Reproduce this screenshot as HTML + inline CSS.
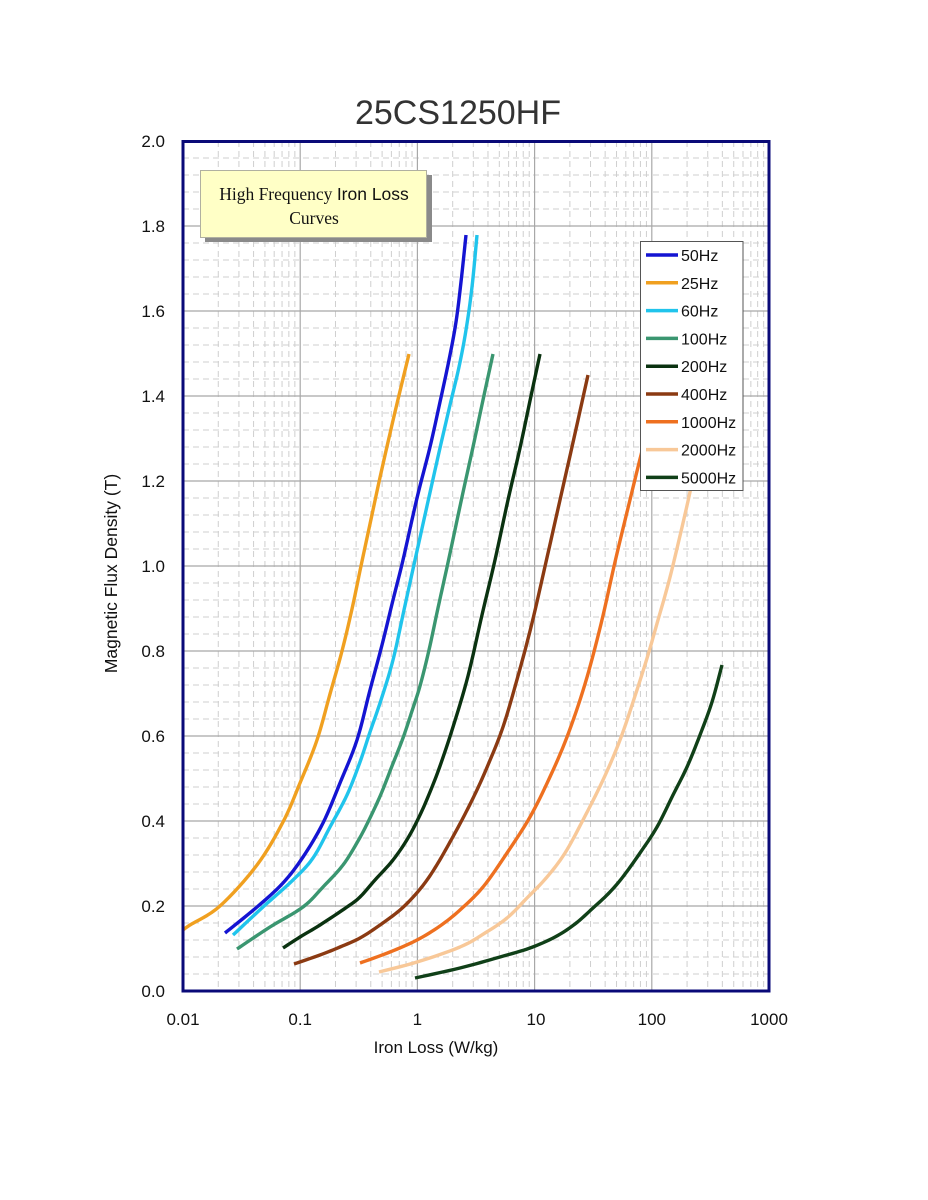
<!DOCTYPE html>
<html>
<head>
<meta charset="utf-8">
<style>
  html, body { margin:0; padding:0; background:#ffffff; }
  body { width:928px; height:1200px; overflow:hidden; }
  svg { display:block; }
  .t { font-family:"Liberation Sans", Arial, sans-serif; fill:#111; }
  .s { font-family:"Liberation Serif", "Times New Roman", serif; fill:#111; }
</style>
</head>
<body>
<svg width="928" height="1200" viewBox="0 0 928 1200" xmlns="http://www.w3.org/2000/svg">
  <rect x="0" y="0" width="928" height="1200" fill="#ffffff"/>

  <!-- Title -->
  <text x="458" y="124" class="t" font-size="34" text-anchor="middle" style="fill:#333">25CS1250HF</text>

  <defs>
    <g id="dec">
      <line x1="35.28" y1="141" x2="35.28" y2="991"/>
      <line x1="55.92" y1="141" x2="55.92" y2="991"/>
      <line x1="70.56" y1="141" x2="70.56" y2="991"/>
      <line x1="81.92" y1="141" x2="81.92" y2="991"/>
      <line x1="91.20" y1="141" x2="91.20" y2="991"/>
      <line x1="99.05" y1="141" x2="99.05" y2="991"/>
      <line x1="105.84" y1="141" x2="105.84" y2="991"/>
      <line x1="111.84" y1="141" x2="111.84" y2="991"/>
    </g>
  </defs>

  <!-- minor vertical grid -->
  <g stroke="#cfcfcf" stroke-width="1" stroke-dasharray="6,4">
    <use href="#dec" transform="translate(183,0)"/>
    <use href="#dec" transform="translate(300.2,0)"/>
    <use href="#dec" transform="translate(417.4,0)"/>
    <use href="#dec" transform="translate(534.6,0)"/>
    <use href="#dec" transform="translate(651.8,0)"/>
  </g>

  <!-- minor horizontal grid -->
  <g stroke="#cfcfcf" stroke-width="1" stroke-dasharray="6,4">
    <line x1="183" x2="769" y1="974" y2="974"/><line x1="183" x2="769" y1="957" y2="957"/><line x1="183" x2="769" y1="940" y2="940"/><line x1="183" x2="769" y1="923" y2="923"/>
    <line x1="183" x2="769" y1="889" y2="889"/><line x1="183" x2="769" y1="872" y2="872"/><line x1="183" x2="769" y1="855" y2="855"/><line x1="183" x2="769" y1="838" y2="838"/>
    <line x1="183" x2="769" y1="804" y2="804"/><line x1="183" x2="769" y1="787" y2="787"/><line x1="183" x2="769" y1="770" y2="770"/><line x1="183" x2="769" y1="753" y2="753"/>
    <line x1="183" x2="769" y1="719" y2="719"/><line x1="183" x2="769" y1="702" y2="702"/><line x1="183" x2="769" y1="685" y2="685"/><line x1="183" x2="769" y1="668" y2="668"/>
    <line x1="183" x2="769" y1="634" y2="634"/><line x1="183" x2="769" y1="617" y2="617"/><line x1="183" x2="769" y1="600" y2="600"/><line x1="183" x2="769" y1="583" y2="583"/>
    <line x1="183" x2="769" y1="549" y2="549"/><line x1="183" x2="769" y1="532" y2="532"/><line x1="183" x2="769" y1="515" y2="515"/><line x1="183" x2="769" y1="498" y2="498"/>
    <line x1="183" x2="769" y1="464" y2="464"/><line x1="183" x2="769" y1="447" y2="447"/><line x1="183" x2="769" y1="430" y2="430"/><line x1="183" x2="769" y1="413" y2="413"/>
    <line x1="183" x2="769" y1="379" y2="379"/><line x1="183" x2="769" y1="362" y2="362"/><line x1="183" x2="769" y1="345" y2="345"/><line x1="183" x2="769" y1="328" y2="328"/>
    <line x1="183" x2="769" y1="294" y2="294"/><line x1="183" x2="769" y1="277" y2="277"/><line x1="183" x2="769" y1="260" y2="260"/><line x1="183" x2="769" y1="243" y2="243"/>
    <line x1="183" x2="769" y1="209" y2="209"/><line x1="183" x2="769" y1="192" y2="192"/><line x1="183" x2="769" y1="175" y2="175"/><line x1="183" x2="769" y1="158" y2="158"/>
  </g>

  <!-- major grid -->
  <g stroke="#a8a8a8" stroke-width="1.2">
    <line x1="300.2" y1="141" x2="300.2" y2="991"/>
    <line x1="417.4" y1="141" x2="417.4" y2="991"/>
    <line x1="534.6" y1="141" x2="534.6" y2="991"/>
    <line x1="651.8" y1="141" x2="651.8" y2="991"/>
    <line x1="183" x2="769" y1="906" y2="906"/>
    <line x1="183" x2="769" y1="821" y2="821"/>
    <line x1="183" x2="769" y1="736" y2="736"/>
    <line x1="183" x2="769" y1="651" y2="651"/>
    <line x1="183" x2="769" y1="566" y2="566"/>
    <line x1="183" x2="769" y1="481" y2="481"/>
    <line x1="183" x2="769" y1="396" y2="396"/>
    <line x1="183" x2="769" y1="311" y2="311"/>
    <line x1="183" x2="769" y1="226" y2="226"/>
  </g>

  <!-- Curves -->
  <g id="curves" fill="none" stroke-width="3.4" stroke-linejoin="round" stroke-linecap="butt">
    <!-- 25Hz -->
    <polyline stroke="#F0A020" points="183,930 190,925 220,906 257,865 283,822 300,783 317,740 330,694 342,651 352,609 361,566 370,524 381,473 395,412 409,354"/>
    <!-- 50Hz -->
    <polyline stroke="#1414D2" points="225,933 257,907 283,883 303,857 323,823 340,783 357,740 370,690 382,645 393,600 403,560 417,498 430,447 440,402 449,360 456,322 461,282 466,235"/>
    <!-- 60Hz -->
    <polyline stroke="#20C4EC" points="233,935 263,907 293,880 313,858 330,827 347,795 360,762 370,732 381,700 393,660 404,610 415,560 429,497 440,448 450,405 459,367 466,330 472,287 477,235"/>
    <!-- 100Hz -->
    <polyline stroke="#3A9670" points="237,949 270,927 303,907 323,887 343,865 358,841 369,820 381,794 392,766 403,738 412,711 420,686 429,650 438,608 449,558 462,497 473,447 483,400 493,354"/>
    <!-- 200Hz -->
    <polyline stroke="#0A3210" points="283,948 300,937 320,925 347,907 360,897 375,880 393,860 408,838 420,815 430,792 440,766 453,727 468,676 482,615 495,560 508,500 520,448 531,396 540,354"/>
    <!-- 400Hz -->
    <polyline stroke="#8B3A12" points="294,964 320,955 340,947 360,938 380,925 400,910 415,895 427,880 438,863 450,842 463,818 476,792 488,765 503,727 518,676 532,623 546,562 560,500 574,438 588,375"/>
    <!-- 1000Hz -->
    <polyline stroke="#EE7020" points="360,963 390,952 417,940 440,926 460,910 483,887 507,853 530,817 549,779 567,737 585,684 601,624 615,562 628,508 641,455 655,400"/>
    <!-- 2000Hz -->
    <polyline stroke="#F8C898" points="379,972 417,962 460,947 485,933 507,918 527,898 547,877 565,853 583,820 603,780 620,740 635,696 648,655 658,620 666,592 674,561 690,492 700,440"/>
    <!-- 5000Hz -->
    <polyline stroke="#104018" points="415,978 460,968 500,957 530,948 555,937 575,924 593,908 608,894 622,878 640,853 657,827 673,795 687,767 700,735 712,702 722,665"/>
  </g>

  <!-- Legend -->
  <rect x="640.5" y="241.5" width="102.5" height="249" fill="#ffffff" stroke="#555" stroke-width="1"/>
  <g stroke-width="3.5">
    <line x1="646" x2="678" y1="255" y2="255" stroke="#1414D2"/>
    <line x1="646" x2="678" y1="282.8" y2="282.8" stroke="#F0A020"/>
    <line x1="646" x2="678" y1="310.6" y2="310.6" stroke="#20C4EC"/>
    <line x1="646" x2="678" y1="338.4" y2="338.4" stroke="#3A9670"/>
    <line x1="646" x2="678" y1="366.2" y2="366.2" stroke="#0A3210"/>
    <line x1="646" x2="678" y1="394" y2="394" stroke="#8B3A12"/>
    <line x1="646" x2="678" y1="421.8" y2="421.8" stroke="#EE7020"/>
    <line x1="646" x2="678" y1="449.6" y2="449.6" stroke="#F8C898"/>
    <line x1="646" x2="678" y1="477.4" y2="477.4" stroke="#104018"/>
  </g>
  <g class="t" font-size="16">
    <text x="681" y="261">50Hz</text>
    <text x="681" y="288.8">25Hz</text>
    <text x="681" y="316.6">60Hz</text>
    <text x="681" y="344.4">100Hz</text>
    <text x="681" y="372.2">200Hz</text>
    <text x="681" y="400">400Hz</text>
    <text x="681" y="427.8">1000Hz</text>
    <text x="681" y="455.6">2000Hz</text>
    <text x="681" y="483.4">5000Hz</text>
  </g>

  <!-- Info box -->
  <rect x="205" y="175" width="227" height="67" fill="#8a8a8a"/>
  <rect x="200.5" y="170.5" width="226" height="67" fill="#FFFFC6" stroke="#b0b0a0" stroke-width="1"/>
  <text x="314" y="200" text-anchor="middle" font-size="17.5"><tspan class="s">High Frequency </tspan><tspan class="t">Iron Loss</tspan></text>
  <text x="314" y="224" text-anchor="middle" class="s" font-size="17.5">Curves</text>

  <!-- Plot border -->
  <rect x="183" y="141.5" width="586" height="849.5" fill="none" stroke="#0A0A78" stroke-width="3"/>

  <!-- Y tick labels -->
  <g class="t" font-size="17" text-anchor="end">
    <text x="165" y="997">0.0</text>
    <text x="165" y="912">0.2</text>
    <text x="165" y="827">0.4</text>
    <text x="165" y="742">0.6</text>
    <text x="165" y="657">0.8</text>
    <text x="165" y="572">1.0</text>
    <text x="165" y="487">1.2</text>
    <text x="165" y="402">1.4</text>
    <text x="165" y="317">1.6</text>
    <text x="165" y="232">1.8</text>
    <text x="165" y="147">2.0</text>
  </g>

  <!-- X tick labels -->
  <g class="t" font-size="17" text-anchor="middle">
    <text x="183" y="1025">0.01</text>
    <text x="300.2" y="1025">0.1</text>
    <text x="417.4" y="1025">1</text>
    <text x="536" y="1025">10</text>
    <text x="651.8" y="1025">100</text>
    <text x="769" y="1025">1000</text>
  </g>

  <!-- Axis titles -->
  <text x="436" y="1053" class="t" font-size="17" text-anchor="middle">Iron Loss (W/kg)</text>
  <text transform="translate(117,573.5) rotate(-90)" class="t" font-size="17.5" text-anchor="middle">Magnetic Flux Density (T)</text>
</svg>
<script>
(function(){
  try {
    var pls = document.querySelectorAll('#curves polyline');
    for (var k = 0; k < pls.length; k++) {
      var pl = pls[k];
      var raw = pl.getAttribute('points').trim().split(/\s+/).map(function(s){var a=s.split(',');return [parseFloat(a[0]),parseFloat(a[1])];});
      if (raw.length < 3) continue;
      var out = [];
      for (var i = 0; i < raw.length - 1; i++) {
        var p0 = raw[i > 0 ? i - 1 : i], p1 = raw[i], p2 = raw[i + 1], p3 = raw[i + 2 < raw.length ? i + 2 : i + 1];
        for (var s = 0; s < 8; s++) {
          var t = s / 8, t2 = t * t, t3 = t2 * t;
          var x = 0.5 * ((2 * p1[0]) + (-p0[0] + p2[0]) * t + (2 * p0[0] - 5 * p1[0] + 4 * p2[0] - p3[0]) * t2 + (-p0[0] + 3 * p1[0] - 3 * p2[0] + p3[0]) * t3);
          var y = 0.5 * ((2 * p1[1]) + (-p0[1] + p2[1]) * t + (2 * p0[1] - 5 * p1[1] + 4 * p2[1] - p3[1]) * t2 + (-p0[1] + 3 * p1[1] - 3 * p2[1] + p3[1]) * t3);
          out.push(x.toFixed(2) + ',' + y.toFixed(2));
        }
      }
      var last = raw[raw.length - 1];
      out.push(last[0] + ',' + last[1]);
      pl.setAttribute('points', out.join(' '));
    }
  } catch (e) {}
})();
</script>
</body>
</html>
